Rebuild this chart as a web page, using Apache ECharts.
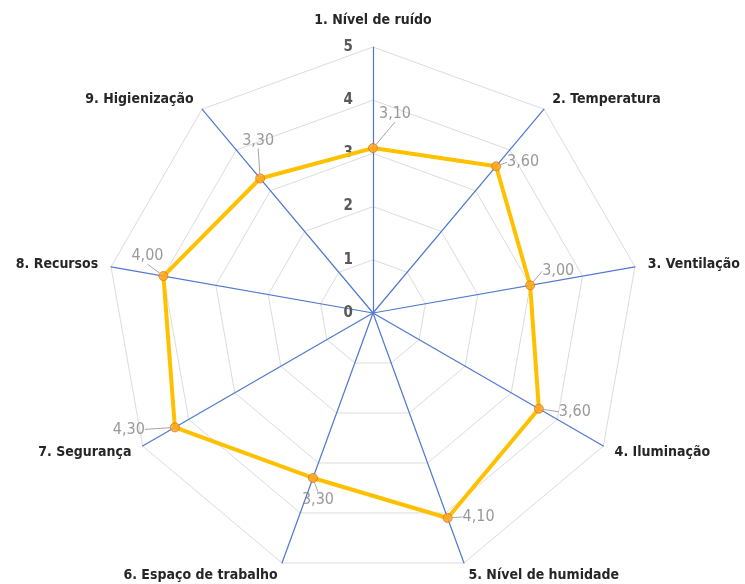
<!DOCTYPE html>
<html>
<head>
<meta charset="utf-8">
<script src="https://cdn.jsdelivr.net/npm/echarts@6/dist/echarts.min.js"></script>
<style>html,body{margin:0;padding:0;background:#fff;}#c{width:745px;height:584px;}</style>
</head>
<body>
<div id="c"></div>
<script>
// ---- data ----
const categories = ['1. Nível de ruído', '2. Temperatura', '3. Ventilação', '4. Iluminação',
  '5. Nível de humidade', '6. Espaço de trabalho', '7. Segurança', '8. Recursos', '9. Higienização'];
const values = [3.10, 3.60, 3.00, 3.60, 4.10, 3.30, 4.30, 4.00, 3.30];
const tickLabels = ['0', '1', '2', '3', '4', '5'];
const axisMax = 5;

// ---- style (label offsets relative to points, px) ----
const labelOffsets = [[22, -34], [27, -4], [28, -14], [36, 3], [31, -1], [5, 22], [-46, 2], [-16, -20], [-2, -38]];
const FONT = "'Liberation Sans Narrow', 'DejaVu Sans Condensed', 'Noto Sans', sans-serif";
const CENTER = [373, 313];
const RADIUS = 266;

// radar draws counterclockwise: reorder so that display is clockwise
const order = [0];
for (let i = categories.length - 1; i >= 1; i--) order.push(i);

const indicators = order.map(function (i, k) {
  const ind = { name: categories[i], min: 0, max: axisMax };
  if (k === 0) {
    ind.nameGap = 20;
    ind.axisLabel = {
      show: true, color: '#595959', fontSize: 15, fontWeight: 'bold', fontFamily: FONT, margin: 20,
      formatter: function (v) { return tickLabels[Math.round(v)]; }
    };
  }
  return ind;
});

const chart = echarts.init(document.getElementById('c'));
chart.setOption({
  animation: false,
  backgroundColor: '#ffffff',
  radar: {
    center: CENTER,
    radius: RADIUS,
    startAngle: 90,
    splitNumber: 5,
    shape: 'polygon',
    nameGap: 13,
    indicator: indicators,
    axisName: { color: '#262626', fontSize: 14, fontWeight: 'bold', fontFamily: FONT },
    splitLine: { lineStyle: { color: '#dcdcdc', width: 1 } },
    splitArea: { show: false },
    axisLine: { lineStyle: { color: '#5079cc', width: 1.2 } },
    axisTick: { show: false },
    axisLabel: { show: false }
  },
  polar: { center: CENTER, radius: RADIUS },
  angleAxis: {
    type: 'category', data: categories, startAngle: 90, clockwise: true, boundaryGap: false,
    show: false
  },
  radiusAxis: { min: 0, max: axisMax, show: false },
  series: [
    {
      type: 'radar',
      symbol: 'none',
      lineStyle: { color: '#FFC000', width: 4 },
      data: [{ value: order.map(function (i) { return values[i]; }) }],
      z: 2
    },
    {
      type: 'scatter',
      coordinateSystem: 'polar',
      symbol: 'circle',
      symbolSize: 9,
      itemStyle: { color: '#F7A520', borderColor: '#E3731E', borderWidth: 1 },
      data: values.map(function (v, i) { return [v, i]; }),
      label: {
        show: true, position: 'inside', color: '#808080', fontSize: 16, fontFamily: FONT,
        formatter: function (p) { return p.value[0].toFixed(2).replace('.', ','); }
      },
      labelLine: { show: true, lineStyle: { color: '#a6a6a6', width: 1 } },
      labelLayout: function (p) {
        const o = labelOffsets[p.dataIndex];
        return { dx: o[0], dy: o[1] };
      },
      z: 5
    }
  ]
});
</script>
</body>
</html>
